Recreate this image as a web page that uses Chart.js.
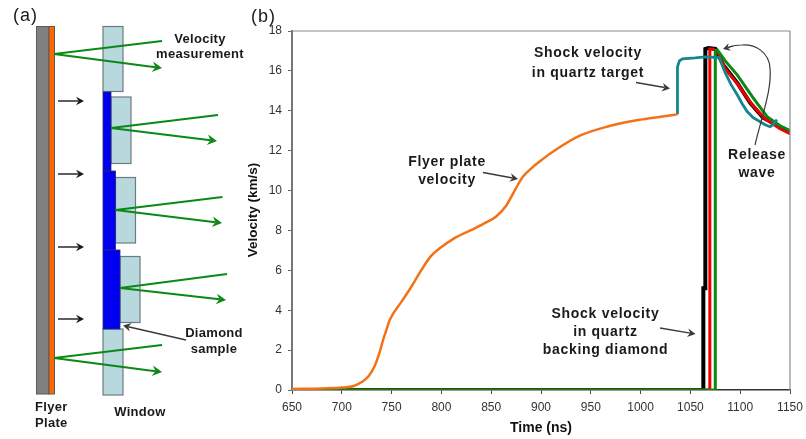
<!DOCTYPE html>
<html>
<head>
<meta charset="utf-8">
<style>
    html, body { margin: 0; padding: 0; background: #fff; }
    canvas { display: block; filter: blur(0.3px); }
</style>
<script src="https://cdn.jsdelivr.net/npm/chart.js@4/dist/chart.umd.min.js"></script>
</head>
<body>
<div style="width:806px;height:439px"><canvas id="chart" width="806" height="439"></canvas></div>
<script>
// Velocity traces (time in ns, velocity in km/s)
const flyerTime = [650, 680, 700, 712, 720, 727, 733, 738, 742, 745, 748, 760, 770, 780, 789, 799, 812, 829, 845, 855, 865, 874, 882, 890, 898, 916, 939, 966, 999, 1020, 1037];
const flyerVel = [0.05, 0.08, 0.12, 0.2, 0.4, 0.7, 1.2, 1.9, 2.6, 3.05, 3.5, 4.43, 5.19, 6.02, 6.69, 7.13, 7.58, 8.0, 8.4, 8.7, 9.24, 10.04, 10.7, 11.1, 11.43, 12.08, 12.75, 13.2, 13.55, 13.7, 13.82];

const quartzTime = [1037, 1037, 1039, 1042, 1055, 1065, 1079, 1085, 1091, 1097, 1102, 1107, 1113, 1120, 1125, 1130, 1133, 1135, 1137];
const quartzVel = [13.82, 16.2, 16.5, 16.6, 16.65, 16.7, 16.67, 15.9, 15.3, 14.8, 14.35, 13.96, 13.65, 13.45, 13.3, 13.2, 13.3, 13.45, 13.55];

const blackTime = [650, 1063, 1063, 1065, 1065, 1068, 1075, 1083, 1097, 1110, 1123, 1140, 1150];
const blackVel = [0, 0, 5.1, 5.1, 17.1, 17.15, 17.1, 16.3, 15.4, 14.4, 13.65, 13.2, 12.95];

const redTime = [650, 1069.5, 1069.5, 1072, 1077, 1085, 1098, 1112, 1125, 1140, 1150];
const redVel = [0, 0, 17.1, 17.1, 17.0, 16.1, 15.3, 14.3, 13.6, 13.1, 12.85];

const greenTime = [650, 1075, 1075, 1077, 1085, 1097, 1113, 1127, 1140, 1150];
const greenVel = [0, 0, 17.0, 17.05, 16.5, 15.8, 14.65, 13.7, 13.25, 13.0];

const xTicksStep = 50;
const yTicksStep = 2;

// Text and arrows laid over the plot, and the panel (a) schematic, in canvas pixels
const panelFont = ['18px', '1px'];
const leftFont = ['bold 13px', '0.3px'];
const plotFont = ['bold 14px', '0.7px'];
const labels = [
    ['(a)', 13, 21, 'left', panelFont],
    ['(b)', 251, 22, 'left', panelFont],
    ['Velocity', 200, 43, 'center', leftFont],
    ['measurement', 200, 58, 'center', leftFont],
    ['Diamond', 214, 337, 'center', leftFont],
    ['sample', 214, 352.5, 'center', leftFont],
    ['Flyer', 35, 411, 'left', leftFont],
    ['Plate', 35, 427, 'left', leftFont],
    ['Window', 140, 416, 'center', leftFont],
    ['Shock velocity', 588, 57, 'center', plotFont],
    ['in quartz target', 588, 76.5, 'center', plotFont],
    ['Flyer plate', 447, 166, 'center', plotFont],
    ['velocity', 447, 184, 'center', plotFont],
    ['Shock velocity', 605.5, 317.5, 'center', plotFont],
    ['in quartz', 605.5, 335.5, 'center', plotFont],
    ['backing diamond', 605.5, 354, 'center', plotFont],
    ['Release', 757, 159, 'center', plotFont],
    ['wave', 757, 177, 'center', plotFont]
];
const plotArrows = [[636, 82.5, 670, 88.5], [483, 172.5, 518, 179], [660, 328, 695.5, 334]];
const flyerRects = [[36.5, 26.5, 12.5, 367.5, '#808080'], [49, 26.5, 5.5, 367.5, '#ff6600']];
const windowRects = [
    [103, 26.5, 20, 65], [111, 97, 20, 66.5], [115.5, 177.5, 20, 65.5],
    [120, 256.5, 20, 66], [103, 329, 20, 66]
];
const diamondRects = [[103, 92, 8, 79], [103, 171, 12.5, 79], [103, 250, 17, 79]];
const rays = [
    [54, 54, 162, 41, 162, 68], [111, 128, 218, 115, 217, 141], [115.5, 210, 222.5, 197, 222, 223],
    [120, 288, 227, 274, 226, 300], [54, 358, 162, 345, 162, 372]
];
const pushArrowsY = [101, 174, 247, 319];

function arrow(ctx, x0, y0, x1, y1, color, width, head) {
    const a = Math.atan2(y1 - y0, x1 - x0);
    ctx.strokeStyle = color;
    ctx.fillStyle = color;
    ctx.lineWidth = width;
    ctx.beginPath();
    ctx.moveTo(x0, y0);
    ctx.lineTo(x1 - Math.cos(a) * head * 0.6, y1 - Math.sin(a) * head * 0.6);
    ctx.stroke();
    ctx.beginPath();
    ctx.moveTo(x1, y1);
    ctx.lineTo(x1 - Math.cos(a - 0.5) * head, y1 - Math.sin(a - 0.5) * head);
    ctx.lineTo(x1 - Math.cos(a) * head * 0.6, y1 - Math.sin(a) * head * 0.6);
    ctx.lineTo(x1 - Math.cos(a + 0.5) * head, y1 - Math.sin(a + 0.5) * head);
    ctx.closePath();
    ctx.fill();
}

const overlay = {
    id: 'overlay',
    afterDraw(chart) {
        const ctx = chart.ctx;
        const area = chart.chartArea;
        ctx.save();

        // top and right frame
        ctx.strokeStyle = '#8c8c8c';
        ctx.lineWidth = 1.2;
        ctx.beginPath();
        ctx.moveTo(area.left, area.top);
        ctx.lineTo(area.right, area.top);
        ctx.lineTo(area.right, area.bottom);
        ctx.stroke();

        // panel (a)
        flyerRects.forEach((r) => {
            ctx.fillStyle = r[4];
            ctx.fillRect(r[0], r[1], r[2], r[3]);
            ctx.strokeStyle = '#5a5a5a';
            ctx.lineWidth = 1;
            ctx.strokeRect(r[0], r[1], r[2], r[3]);
        });
        windowRects.forEach((r) => {
            ctx.fillStyle = '#b7d9dd';
            ctx.fillRect(r[0], r[1], r[2], r[3]);
            ctx.strokeStyle = '#6d7b80';
            ctx.lineWidth = 1.2;
            ctx.strokeRect(r[0], r[1], r[2], r[3]);
        });
        diamondRects.forEach((r) => {
            ctx.fillStyle = '#0000f0';
            ctx.fillRect(r[0], r[1], r[2], r[3]);
            ctx.strokeStyle = '#2a2a70';
            ctx.lineWidth = 0.8;
            ctx.strokeRect(r[0], r[1], r[2], r[3]);
        });
        rays.forEach((r) => {
            ctx.strokeStyle = '#0a8a14';
            ctx.lineWidth = 2;
            ctx.beginPath();
            ctx.moveTo(r[0], r[1]);
            ctx.lineTo(r[2], r[3]);
            ctx.stroke();
            arrow(ctx, r[0], r[1], r[4], r[5], '#0a8a14', 2, 11);
        });
        pushArrowsY.forEach((y) => arrow(ctx, 58, y, 84, y, '#1a1a1a', 1.4, 9));
        arrow(ctx, 186, 340, 123, 325.5, '#3a3a3a', 1.4, 9);

        // panel (b) arrows
        plotArrows.forEach((a) => arrow(ctx, a[0], a[1], a[2], a[3], '#3a3a3a', 1.4, 9));
        ctx.strokeStyle = '#3a3a3a';
        ctx.lineWidth = 1.2;
        ctx.beginPath();
        ctx.moveTo(755, 145);
        ctx.bezierCurveTo(762, 115, 772, 90, 770, 68);
        ctx.bezierCurveTo(769, 52, 755, 44, 742, 45);
        ctx.bezierCurveTo(736, 45, 732, 46, 729, 47);
        ctx.stroke();
        arrow(ctx, 733, 46, 723, 49, '#3a3a3a', 1.2, 8);

        // text
        ctx.fillStyle = '#1a1a1a';
        ctx.textBaseline = 'alphabetic';
        labels.forEach((l) => {
            ctx.font = l[4][0] + ' "Liberation Sans", Arial, sans-serif';
            ctx.letterSpacing = l[4][1];
            ctx.textAlign = l[3];
            ctx.fillText(l[0], l[1], l[2]);
        });
        ctx.restore();
    }
};

function traceData(xs, ys) {
    return xs.map((x, i) => ({ x: x, y: ys[i] }));
}

function trace(label, xs, ys, color, width) {
    return {
        label: label,
        data: traceData(xs, ys),
        borderColor: color,
        backgroundColor: color,
        borderWidth: width,
        showLine: true,
        pointRadius: 0,
        tension: 0
    };
}

document.addEventListener('DOMContentLoaded', () => {
    Chart.defaults.font.family = '"Liberation Sans", Arial, sans-serif';

    const flyer = trace('Flyer plate', flyerTime, flyerVel, '#f47216', 2.5);
    flyer.cubicInterpolationMode = 'monotone';

    new Chart(document.getElementById('chart'), {
        type: 'scatter',
        data: {
            datasets: [
                flyer,
                trace('Quartz target', quartzTime, quartzVel, '#14868c', 2.8),
                trace('Green', greenTime, greenVel, '#0a8a14', 3),
                trace('Red', redTime, redVel, '#f00000', 3),
                trace('Black', blackTime, blackVel, '#000000', 4)
            ]
        },
        options: {
            responsive: false,
            animation: false,
            layout: { padding: { top: 31, right: 16, left: 0, bottom: 0 } },
            plugins: { legend: { display: false }, tooltip: { enabled: false } },
            scales: {
                x: {
                    type: 'linear',
                    min: 650,
                    max: 1150,
                    afterFit: (scale) => { scale.height = 49; scale.paddingRight = 0; scale.paddingLeft = 0; },
                    ticks: { stepSize: xTicksStep, color: '#333', font: { size: 12 }, maxRotation: 0, padding: 6, callback: (v) => String(v) },
                    grid: { drawOnChartArea: false, tickLength: 4, tickColor: '#444' },
                    border: { color: '#333', width: 1.5 },
                    title: { display: true, text: 'Time (ns)', color: '#111', font: { size: 14, weight: 'bold' }, padding: { top: 3, bottom: 2 } }
                },
                y: {
                    min: 0,
                    max: 18,
                    afterFit: (scale) => { scale.width = 292; },
                    ticks: { stepSize: yTicksStep, color: '#333', font: { size: 12 }, padding: 6 },
                    grid: { drawOnChartArea: false, tickLength: 4, tickColor: '#666' },
                    border: { color: '#777', width: 2 },
                    title: { display: false }
                }
            }
        },
        plugins: [overlay, {
            id: 'yTitle',
            afterDraw(chart) {
                const ctx = chart.ctx;
                ctx.save();
                ctx.translate(253, 210);
                ctx.rotate(-Math.PI / 2);
                ctx.font = 'bold 13.5px "Liberation Sans", Arial, sans-serif';
                ctx.fillStyle = '#111';
                ctx.textAlign = 'center';
                ctx.textBaseline = 'middle';
                ctx.fillText('Velocity (km/s)', 0, 0);
                ctx.restore();
            }
        }]
    });
});
</script>
</body>
</html>
